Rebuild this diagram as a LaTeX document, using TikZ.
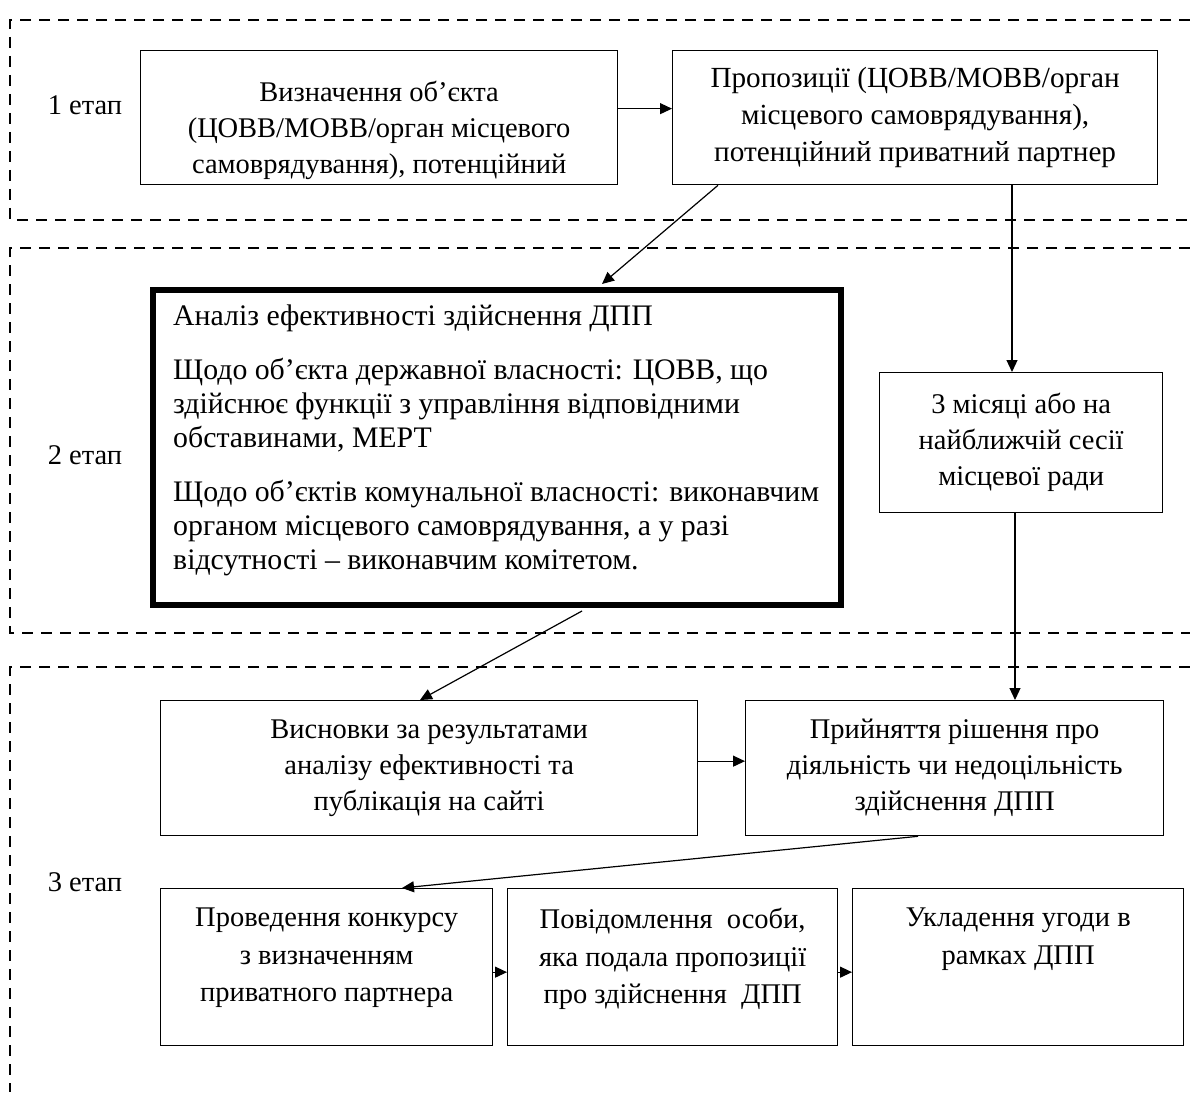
\documentclass[tikz,border=0pt]{standalone}
\usepackage{fontspec}
\setmainfont{Liberation Serif}
\usetikzlibrary{arrows.meta,calc}
\begin{document}
\begin{tikzpicture}[x=1pt,y=-1pt,
  box/.style={draw, line width=1.3pt, rectangle, inner sep=0pt, anchor=north west},
  txt/.style={align=center, inner sep=0pt, font=\fontsize{28.5}{36}\selectfont},
  ftxt/.style={align=center, inner sep=0pt, anchor=north, font=\fontsize{28.5}{37.5}\selectfont},
  arr/.style={line width=1.2pt, -{Triangle[length=12pt,width=11pt]}},
  zone/.style={line width=2.5pt, dash pattern=on 11pt off 8pt},
  stage/.style={inner sep=0pt, font=\fontsize{28.5}{36}\selectfont}
]
\useasboundingbox (0,0) rectangle (1190,1099);

% stage zones
\draw[zone] (1190,20) -- (10,20) -- (10,220) -- (1190,220);
\draw[zone] (1190,248) -- (10,248) -- (10,633) -- (1190,633);
\draw[zone] (1190,667) -- (10,667) -- (10,1092);

\node[stage] (s1) at (85,105) {1 етап};
\node[stage] (s2) at (85,455) {2 етап};
\node[stage] (s3) at (85,882) {3 етап};

% boxes
\node[box, minimum width=477pt, minimum height=134pt] (A) at (140,50) {};
\node[box, minimum width=485pt, minimum height=134pt] (B) at (672,50) {};
\node[box, line width=6pt, minimum width=688pt, minimum height=315pt] (C) at (150,287) {};
\node[box, minimum width=283pt, minimum height=140pt] (D) at (879,372) {};
\node[box, minimum width=537pt, minimum height=135pt] (E1) at (160,700) {};
\node[box, minimum width=418pt, minimum height=135pt] (E2) at (745,700) {};
\node[box, minimum width=332pt, minimum height=157pt] (F1) at (160,888) {};
\node[box, minimum width=330pt, minimum height=157pt] (F2) at (507,888) {};
\node[box, minimum width=331pt, minimum height=157pt] (F3) at (852,888) {};

% texts
\node[txt] (At) at ($(A.center)+(0,13)$) {Визначення об’єкта\\(ЦОВВ/МОВВ/орган місцевого\\самоврядування), потенційний};
\node[txt, font=\fontsize{29.2}{37}\selectfont] (Bt) at (B.center) {Пропозиції (ЦОВВ/МОВВ/орган\\місцевого самоврядування),\\потенційний приватний партнер};
\node[inner sep=0pt, anchor=north west, align=left, font=\fontsize{29.8}{34}\selectfont] (Ct) at ($(C.north west)+(23,18)$)
 {Аналіз ефективності здійснення ДПП\\[20pt]
  Щодо об’єкта державної власності: ЦОВВ, що\\
  здійснює функції з управління відповідними\\
  обставинами, МЕРТ\\[20pt]
  Щодо об’єктів комунальної власності: виконавчим\\
  органом місцевого самоврядування, а у разі\\
  відсутності – виконавчим комітетом.};
\node[txt] (Dt) at (D.center) {3 місяці або на\\найближчій сесії\\місцевої ради};
\node[txt] (E1t) at (E1.center) {Висновки за результатами\\аналізу ефективності та\\публікація на сайті};
\node[txt] (E2t) at (E2.center) {Прийняття рішення про\\діяльність чи недоцільність\\здійснення ДПП};
\node[ftxt] (F1t) at ($(F1.north)+(0,20)$) {Проведення конкурсу\\з визначенням\\приватного партнера};
\node[ftxt] (F2t) at ($(F2.north)+(0,20)$) {Повідомлення\ \ особи,\\яка подала пропозиції\\про здійснення\ \ ДПП};
\node[ftxt] (F3t) at ($(F3.north)+(0,20)$) {Укладення угоди в\\рамках ДПП};

% connectors
\draw[arr] ([yshift=9pt]A.east) -- ([yshift=9pt]B.west);
\coordinate (bc) at ($(B.south west)+(46,0)$);
\coordinate (cb) at ($(C.north west)+(452,-3)$);
\draw[arr] (bc) -- (cb);
\coordinate (bd) at ($(B.south west)+(340,0)$);
\draw[arr] (bd) -- (bd |- D.north);
\coordinate (ce) at ($(C.south west)+(432,3)$);
\coordinate (ec) at ($(E1.north west)+(260,0)$);
\draw[arr] (ce) -- (ec);
\coordinate (de) at ($(D.south west)+(136,0)$);
\draw[arr] (de) -- (de |- E2.north);
\draw[arr] ([yshift=7pt]E1.east) -- ([yshift=7pt]E2.west);
\coordinate (ef) at ($(E2.south west)+(173,0)$);
\coordinate (fe) at ($(F1.north west)+(242,0)$);
\draw[arr] (ef) -- (fe);
\draw[arr] ([yshift=-5pt]F1.east) -- ([yshift=-5pt]F2.west);
\draw[arr] ([yshift=-5pt]F2.east) -- ([yshift=-5pt]F3.west);
\end{tikzpicture}
\end{document}
